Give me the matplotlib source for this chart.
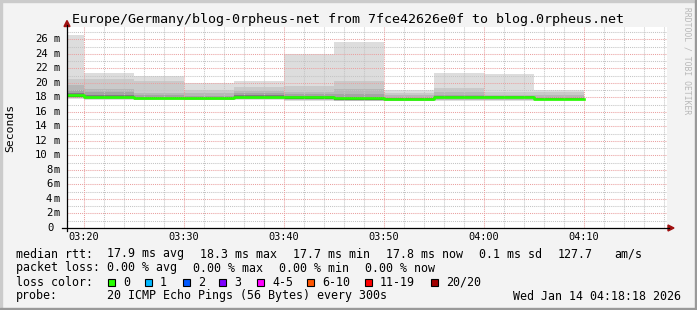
import matplotlib
matplotlib.use('Agg')
import matplotlib.pyplot as plt
from matplotlib.patches import Rectangle, Polygon
from matplotlib.lines import Line2D

W, H = 697, 310
MONO = 'DejaVu Sans Mono'
BG = '#f3f3f3'

# one value per 5 minute step, step starts at these times
step_start = ['03:15', '03:20', '03:25', '03:30', '03:35', '03:40',
              '03:45', '03:50', '03:55', '04:00', '04:05']
step_end = '04:10'

# rtt in ms (p20 = slowest ping of 20)
max_ms = [26.6, 21.4, 20.9, 19.95, 20.2, 24.0, 25.6, 19.0, 21.4, 21.2, 19.0]
p19_ms = [20.6, 20.5, 20.2, 19.0, 19.4, 19.6, 20.3, 18.6, 19.3, 18.8, 18.7]
p18_ms = [19.7, 19.1, 18.6, 18.6, 18.9, 18.8, 19.1, 18.3, 18.8, 18.35, 18.35]
p15_ms = [19.0, 18.8, 18.3, 18.2, 18.6, 18.4, 18.5, 18.0, 18.3, 18.2, 18.1]
p12_ms = [18.6, 18.3, 18.05, 18.05, 18.3, 18.15, 18.1, 17.9, 18.15, 18.15, 17.95]
median_ms = [18.3, 18.1, 17.9, 17.9, 18.1, 18.0, 17.9, 17.75, 18.0, 18.0, 17.8]
p9_ms = [18.05, 17.85, 17.75, 17.75, 17.85, 17.8, 17.7, 17.6, 17.85, 17.85, 17.65]
p6_ms = [17.95, 17.8, 17.72, 17.7, 17.8, 17.72, 17.65, 17.57, 17.78, 17.78, 17.62]
p3_ms = [17.85, 17.72, 17.68, 17.66, 17.72, 17.6, 17.55, 17.52, 17.65, 17.65, 17.58]
min_ms = [17.75, 17.65, 17.6, 17.6, 17.65, 17.5, 17.5, 17.5, 17.55, 17.55, 17.55]

y_ticks = [0, 2, 4, 6, 8, 10, 12, 14, 16, 18, 20, 22, 24, 26]
x_labels = ['03:20', '03:30', '03:40', '03:50', '04:00', '04:10']

loss_labels = ['0', '1', '2', '3', '4-5', '6-10', '11-19', '20/20']
loss_colors = ['#26ff00', '#00b8ff', '#0059ff', '#7e00ff', '#ff00ff',
               '#ff5500', '#ff0000', '#a10000']


def minutes(t):
    h, m = t.split(':')
    return int(h) * 60 + int(m)


def fx(x):
    return x / W


def fy(y):
    return 1 - y / H


edges = [minutes(t) for t in step_start] + [minutes(step_end)]
t0 = minutes('03:18') + 18 / 60.0
t1 = t0 + 60

fig = plt.figure(figsize=(W / 100, H / 100), dpi=100, facecolor=BG)
ax = fig.add_axes([fx(67), fy(228), 600 / W, (228 - 27) / H])
ax.set_facecolor('white')
ax.set_xlim(t0, t1)
ax.set_ylim(0, 27.7)
for s in ax.spines.values():
    s.set_visible(False)
ax.set_xticks([])
ax.set_yticks([])


def ext(v):
    return list(v) + [v[-1]]


bands = [(min_ms, max_ms, '#dddddd'),
         (p3_ms, p19_ms, '#cacaca'),
         (p3_ms, p18_ms, '#b7b7b7'),
         (p6_ms, p15_ms, '#a4a4a4'),
         (p9_ms, p12_ms, '#7e7e7e'),
         (p9_ms, median_ms, '#4a4a4a')]
for lo, hi, c in bands:
    ax.fill_between(edges, ext(lo), ext(hi), step='post', color=c,
                    linewidth=0, zorder=1)

# grid, dotted
dot = (0, (1, 1))
for m in range(minutes('03:20'), int(t1) + 1, 2):
    if m % 10:
        ax.axvline(m, color='#c4c4c4', lw=0.75, ls=dot, zorder=2)
for v in range(1, 28, 2):
    ax.axhline(v, color='#c4c4c4', lw=0.75, ls=dot, zorder=2)
for lab in x_labels:
    ax.axvline(minutes(lab), color='#eaa0a0', lw=0.75, ls=dot, zorder=3)
for v in y_ticks[1:]:
    ax.axhline(v, color='#eaa0a0', lw=0.75, ls=dot, zorder=3)

ax.step(edges, ext(median_ms), where='post', color='#26ff00', lw=1.9,
        zorder=4)

# axis lines with arrows
fig.add_artist(Line2D([fx(67), fx(67)], [fy(231), fy(25)], color='black',
                      lw=0.9, transform=fig.transFigure))
fig.add_artist(Line2D([fx(62), fx(669)], [fy(228), fy(228)], color='black',
                      lw=0.9, transform=fig.transFigure))
fig.add_artist(Polygon([[fx(64), fy(26.5)], [fx(70), fy(26.5)], [fx(67), fy(20.5)]],
                       closed=True, color='#a01010', transform=fig.transFigure))
fig.add_artist(Polygon([[fx(668), fy(225)], [fx(668), fy(231)], [fx(674), fy(228)]],
                       closed=True, color='#a01010', transform=fig.transFigure))

# frame shading
fig.add_artist(Rectangle((0, fy(2)), 1, 2 / H, color='#cbcbcb',
                         transform=fig.transFigure))
fig.add_artist(Rectangle((0, 0), 2 / W, 1, color='#cbcbcb',
                         transform=fig.transFigure))
fig.add_artist(Rectangle((0, 0), 1, 2 / H, color='#999999',
                         transform=fig.transFigure))
fig.add_artist(Rectangle((fx(695), 0), 2 / W, 1, color='#999999',
                         transform=fig.transFigure))

# y tick labels
for v in y_ticks:
    yp = 228 - v * (228 - 27) / 27.7
    if v == 0:
        fig.text(fx(53.5), fy(yp), '0', ha='right', va='center',
                 fontsize=7.6, family=MONO)
        continue
    xr = 47.8 if v >= 10 else 52.3
    fig.text(fx(xr), fy(yp), str(v), ha='right', va='center',
             fontsize=7.6, family=MONO)
    fig.text(fx(54), fy(yp), 'm', ha='left', va='center',
             fontsize=7.6, family=MONO)

for lab in x_labels:
    xp = 67 + (minutes(lab) - t0) * 10
    fig.text(fx(xp), fy(237.5), lab, ha='center', va='center',
             fontsize=7.4, family=MONO)

fig.text(fx(348), fy(19), 'Europe/Germany/blog-0rpheus-net from 7fce42626e0f to blog.0rpheus.net',
         ha='center', va='center', fontsize=9.6, family=MONO)
fig.text(fx(10), fy(128), 'Seconds', rotation=90, ha='center', va='center',
         fontsize=8.2, family=MONO)
fig.text(fx(687), fy(61), 'RRDTOOL / TOBI OETIKER', rotation=270,
         ha='center', va='center', fontsize=5.8, family=MONO, color='#b8b8b8')

# legend rows
rows = [
    (254, [(16, 'median rtt:'), (107, '17.9 ms avg'), (200, '18.3 ms max'),
           (293, '17.7 ms min'), (386, '17.8 ms now'), (479, '0.1 ms sd'),
           (558, '127.7'), (614, 'am/s')]),
    (268, [(16, 'packet loss:'), (107, '0.00 % avg'), (193, '0.00 % max'),
           (279, '0.00 % min'), (365, '0.00 % now')]),
    (282, [(16, 'loss color:')]),
    (296, [(16, 'probe:'), (107, '20 ICMP Echo Pings (56 Bytes) every 300s'),
           (513, 'Wed Jan 14 04:18:18 2026')]),
]
for yp, items in rows:
    for xp, s in items:
        fig.text(fx(xp), fy(yp), s, ha='left', va='center', fontsize=8.4,
                 family=MONO)

box_x = [108, 145, 183, 219, 257, 307, 365, 431]
for bx, lab, c in zip(box_x, loss_labels, loss_colors):
    fig.add_artist(Rectangle((fx(bx), fy(285.5)), 7 / W, 7 / H, facecolor=c,
                             edgecolor='black', lw=0.8,
                             transform=fig.transFigure))
    fig.text(fx(bx + 15), fy(282), lab, ha='left', va='center',
             fontsize=8.4, family=MONO)

fig.savefig('out.png', dpi=100, facecolor=BG)
